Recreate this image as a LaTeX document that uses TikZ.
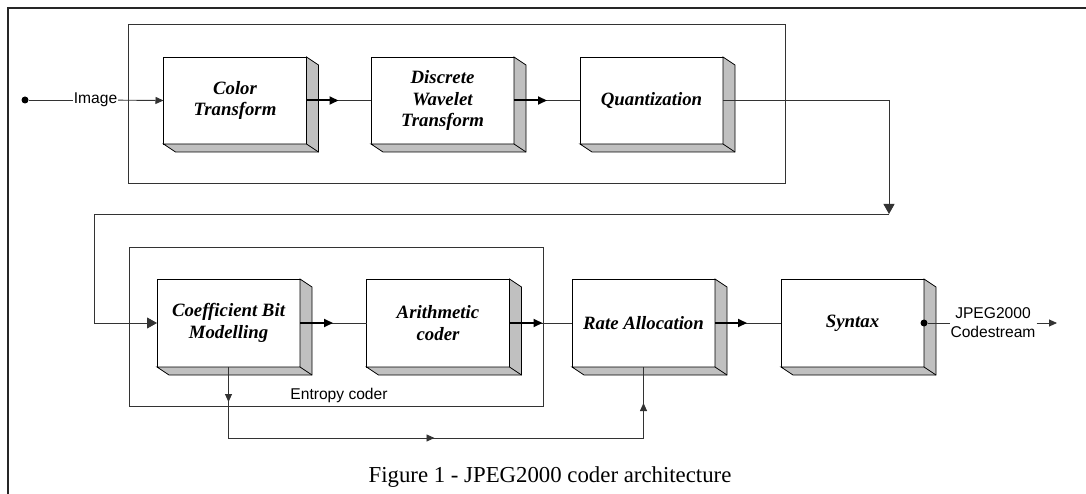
\documentclass[tikz,border=0pt]{standalone}
\usepackage{fontspec}
\setmainfont{Liberation Serif}
\newfontfamily\arialf{Liberation Sans}
\usetikzlibrary{arrows.meta,decorations.markings,calc}
\definecolor{depthgray}{HTML}{C0C0C0}
\tikzset{
  blockbox/.style={draw=black, line width=0.8pt, fill=white, minimum width=143pt, minimum height=87pt,
    inner sep=0pt, outer sep=0pt, align=center,
    font=\bfseries\itshape\fontsize{18.8}{21.7}\selectfont},
  conn/.style={draw=black!80, line width=0.9pt},
  smalltip/.style={-{Triangle[length=8pt,width=7pt]}},
  bigtip/.style={-{Triangle[length=10pt,width=11pt]}},
  heavy/.style={draw=black, line width=2pt, -{Triangle[length=9pt,width=8pt]}},
  groupbox/.style={draw=black!80, line width=0.9pt},
  dotnode/.style={circle, fill=black, inner sep=0pt, minimum size=7pt},
  sanslabel/.style={font=\arialf\fontsize{15.6}{18.8}\selectfont, inner sep=0.8pt, align=center}
}
\begin{document}
\begin{tikzpicture}[x=1pt,y=-1pt]
\useasboundingbox (0,0) rectangle (1086,494);
% outer frame (only top and left visible)
\draw[black!85, line width=1.5pt] (8,494) -- (8,8) -- (1086,8);
% group frames
\draw[groupbox] (128,24) rectangle (785,183);
\draw[groupbox] (129,247) rectangle (543,406);
\node[sanslabel, anchor=base] (entl) at (339,399) {Entropy coder};

% blocks
\node[blockbox] (ct)  at (235,100.5)   {Color\\Transform};
\node[blockbox] (dwt) at (442.5,100.5) {Discrete\\Wavelet\\Transform};
\node[blockbox] (qz)  at (651.5,100.5) {Quantization};
\node[blockbox, minimum height=88pt] (cbm) at (228.5,323) {Coefficient Bit\\Modelling};
\node[blockbox, minimum height=88pt] (ac)  at (438,323)   {Arithmetic\\coder};
\node[blockbox, minimum height=88pt] (ra)  at (643.5,323) {Rate Allocation};
\node[blockbox, minimum height=88pt] (sy)  at (852.5,323) {Syntax};

% 3D depth faces
\foreach \n in {ct,dwt,qz,cbm,ac,ra,sy}{
  \filldraw[fill=depthgray, draw=black, line width=0.8pt, line join=miter]
    (\n.north east) -- ([shift={(12,8)}]\n.north east) -- ([shift={(12,8)}]\n.south east)
    -- ([shift={(12,8)}]\n.south west) -- (\n.south west) -- (\n.south east) -- cycle;
  \draw[black, line width=0.8pt] (\n.south east) -- ([shift={(12,8)}]\n.south east);
}

% input
\node[dotnode] (in) at (25,100) {};
\node[sanslabel] (img) at (95.5,100) {Image};
\draw[conn] (in) -- (img);
\draw[conn, smalltip] (img) -- (ct.west);

% row 1 connectors
\draw[conn] (ct.east) -- (dwt.west);
\draw[heavy] (ct.east) -- ++(32,0);
\draw[conn] (dwt.east) -- (qz.west);
\draw[heavy] (dwt.east) -- ++(33,0);

% wrap-around
\coordinate (turn) at (889,214);
\coordinate (back) at (94,214);
\draw[conn, bigtip] (qz.east) -| (turn);
\draw[conn, bigtip] (turn) -- (back) |- (cbm.west);

% row 2 connectors
\draw[conn] (cbm.east) -- (ac.west);
\draw[heavy] (cbm.east) -- ++(33,0);
\draw[conn] (ac.east) -- (ra.west);
\draw[heavy] (ac.east) -- ++(33,0);
\draw[conn] (ra.east) -- (sy.west);
\draw[heavy] (ra.east) -- ++(32,0);

% feedback
\draw[conn, postaction={decorate}, decoration={markings,
    mark=at position 35pt with {\arrow{Triangle[length=8pt,width=7pt]}},
    mark=at position 277pt with {\arrow{Triangle[length=8pt,width=7pt]}},
    mark=at position 521pt with {\arrow{Triangle[length=8pt,width=7pt]}}}]
  (cbm.south) -- ++(0,71) -| (ra.south);

% output
\node[dotnode] (sdot) at (sy.east) {};
\node[sanslabel] (jl) at (993,322.5) {JPEG2000\\Codestream};
\coordinate (outend) at (1057,323);
\draw[conn] (sdot) -- (jl.west |- sdot);
\draw[conn, smalltip] (jl.east |- sdot) -- (outend);

% caption
\node[anchor=base, font=\fontsize{22.8}{26}\selectfont, inner sep=0pt] (cap) at (550,482)
  {Figure 1 - JPEG2000 coder architecture};
\end{tikzpicture}
\end{document}
